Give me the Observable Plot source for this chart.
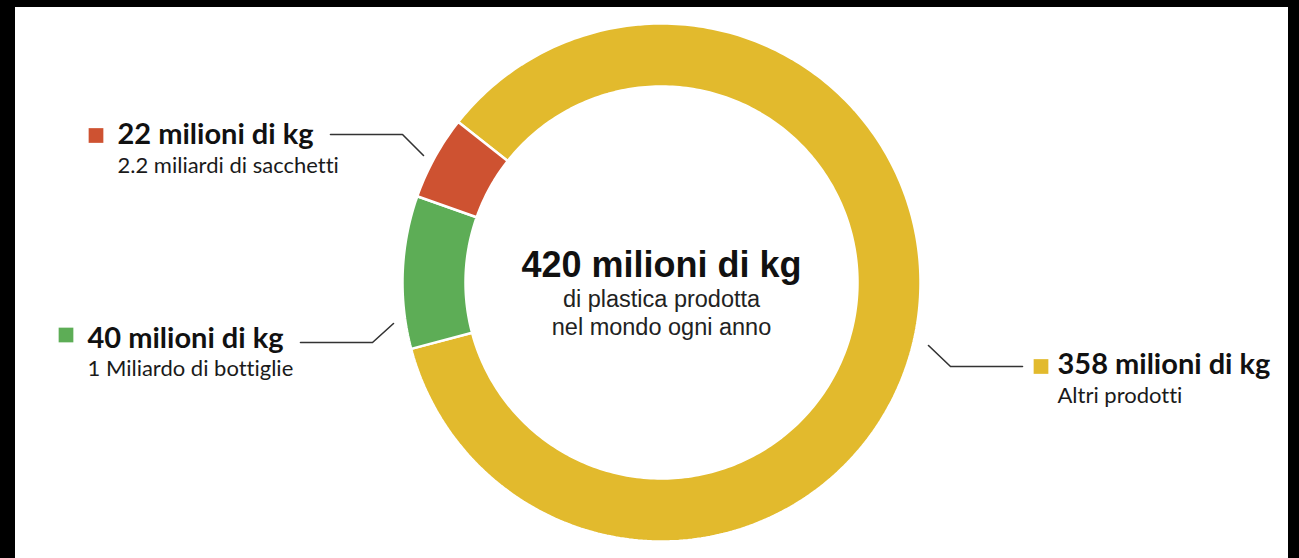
<!DOCTYPE html>
<html><head><meta charset="utf-8">
<script src="https://cdn.jsdelivr.net/npm/d3@7"></script>
<script src="https://cdn.jsdelivr.net/npm/@observablehq/plot@0.6"></script>
<style>
html,body{margin:0;padding:0;background:#000;width:1299px;height:558px;overflow:hidden;}
#frame{position:absolute;left:15px;top:7px;width:1273px;height:551px;background:#fff;overflow:hidden;}
svg text{font-variant-ligatures:none;font-feature-settings:"liga" 0;}
</style></head><body><div id="frame"></div>
<script>
// ---- data ----
const categories = ["Altri prodotti", "Bottiglie", "Sacchetti"];
const values = [358, 40, 22]; // milioni di kg
const headlines = ["358 milioni di kg", "40 milioni di kg", "22 milioni di kg"];
const sublabels = ["Altri prodotti", "1 Miliardo di bottiglie", "2.2 miliardi di sacchetti"];
const colors = ["#E2BA2D", "#5DAD56", "#CE5231"];
const totalLabel = "420 milioni di kg";
const totalSub = ["di plastica prodotta", "nel mondo ogni anno"];

// ---- layout (page pixel coordinates) ----
const ox = 15, oy = 7, W = 1273, H = 551;
const cx = 661, cy = 282, R = 259, r0 = 196;
const startAngle = -51.7 * Math.PI / 180;
const labelLayout = [
  {sq: [1040.5, 366], x: 1057, y1: 373, y2: 402, leader: [[928, 345], [950, 366], [1022, 366]]},
  {sq: [65.5, 334.5], x: 87, y1: 347, y2: 375, leader: [[300, 342], [372, 342], [393, 323]]},
  {sq: [95.5, 135], x: 117, y1: 143, y2: 172, leader: [[330, 134], [402, 134], [423, 155]]}
];
const centerLayout = {x: cx, y: [276, 306, 334]};

const data = categories.map((c, i) => ({cat: c, value: values[i]}));
const pie = d3.pie().sort(null).value(d => d.value).startAngle(startAngle).endAngle(startAngle + 2 * Math.PI);
const arcs = pie(data);
const ringPts = arcs.flatMap(a => {
  const n = Math.max(8, Math.ceil((a.endAngle - a.startAngle) / (Math.PI / 180)));
  const pts = [];
  for (let i = 0; i <= n; i++) {
    const t = a.startAngle + (a.endAngle - a.startAngle) * i / n;
    pts.push({cat: a.data.cat, x: cx + R * Math.sin(t), y: cy - R * Math.cos(t)});
  }
  for (let i = n; i >= 0; i--) {
    const t = a.startAngle + (a.endAngle - a.startAngle) * i / n;
    pts.push({cat: a.data.cat, x: cx + r0 * Math.sin(t), y: cy - r0 * Math.cos(t)});
  }
  pts.push({...pts[0]});
  return pts;
});

const labels = categories.map((c, i) => ({cat: c, head: headlines[i], sub: sublabels[i], ...labelLayout[i]}));
const leaderPts = labels.flatMap(l => l.leader.map(p => ({cat: l.cat, x: p[0], y: p[1]})));
const centerTexts = [totalLabel, ...totalSub].map((t, i) => ({t, x: centerLayout.x, y: centerLayout.y[i], i}));

const chart = Plot.plot({
  width: W, height: H, margin: 0,
  x: {domain: [ox, ox + W], axis: null},
  y: {domain: [oy + H, oy], axis: null},
  color: {domain: categories, range: colors},
  style: {background: "transparent", overflow: "visible"},
  marks: [
    Plot.line(ringPts, {x: "x", y: "y", z: "cat", fill: "cat", stroke: "white", strokeWidth: 2.5, strokeLinejoin: "miter"}),
    Plot.line(leaderPts, {x: "x", y: "y", z: "cat", stroke: "#333", strokeWidth: 1.6}),
    Plot.dot(labels, {x: d => d.sq[0], y: d => d.sq[1], symbol: "square", r: 8.3, fill: "cat"}),
    Plot.text(labels, {x: "x", y: "y1", text: "head", textAnchor: "start", lineAnchor: "bottom", fontFamily: "Lato", fontWeight: "bold", fontSize: 29, fill: "#111"}),
    Plot.text(labels, {x: "x", y: "y2", text: "sub", textAnchor: "start", lineAnchor: "bottom", fontFamily: "Lato", fontSize: 22, fill: "#1a1a1a"}),
    Plot.text(centerTexts.filter(d => d.i === 0), {x: "x", y: "y", text: "t", textAnchor: "middle", lineAnchor: "bottom", fontFamily: "Liberation Sans", fontWeight: "bold", fontSize: 36, fill: "#111"}),
    Plot.text(centerTexts.filter(d => d.i > 0), {x: "x", y: "y", text: "t", textAnchor: "middle", lineAnchor: "bottom", fontFamily: "Liberation Sans", fontSize: 23.5, fill: "#222"})
  ]
});
document.getElementById("frame").appendChild(chart);
</script>
</body></html>
